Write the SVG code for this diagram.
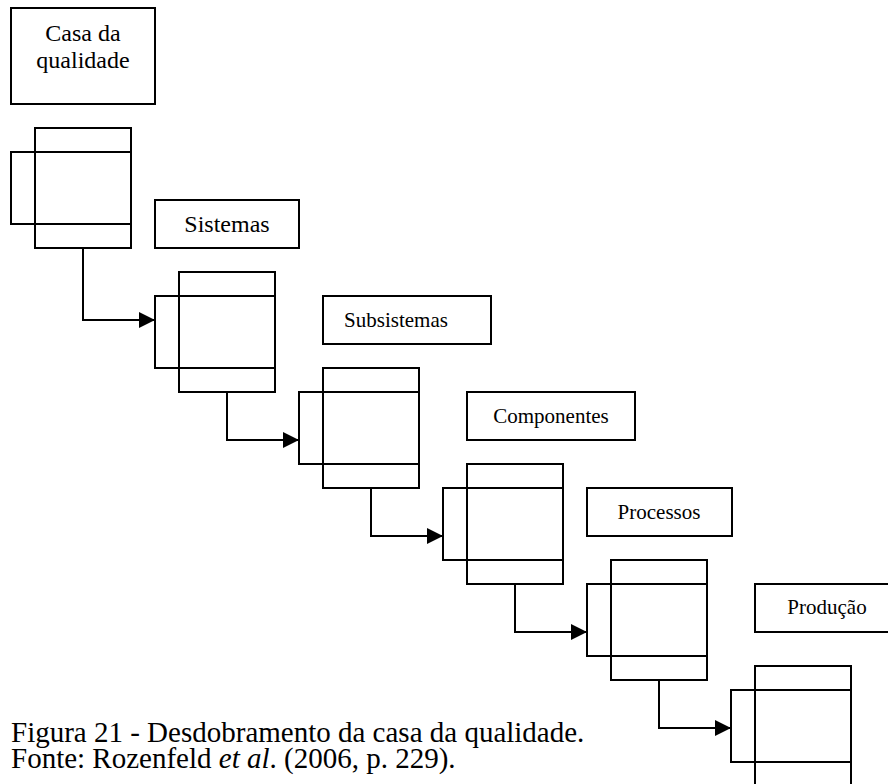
<svg xmlns="http://www.w3.org/2000/svg" width="888" height="784" viewBox="0 0 888 784" font-family="'Liberation Serif', 'Times New Roman', 'DejaVu Serif', serif">
<style>
.box{fill:none;stroke:#000;stroke-width:2}
.line{fill:none;stroke:#000;stroke-width:2}
text{font-family:'Liberation Serif','Times New Roman','DejaVu Serif',serif;fill:#000}
.lbl{text-anchor:middle}
.big{font-size:24px}
.small{font-size:21px}
.cap{font-size:29px}
</style>
<defs>
<marker id="arrow" markerWidth="16" markerHeight="16" refX="16" refY="8" orient="auto" markerUnits="userSpaceOnUse">
<path d="M0,0 L16,8 L0,16 Z" fill="#000"/>
</marker>
</defs>
<rect width="888" height="784" fill="#fff"/>
<g id="casa">
<rect class="box" x="11" y="8" width="144" height="96"/>
<text class="lbl big" x="83" y="41">Casa da</text>
<text class="lbl big" x="83" y="68">qualidade</text>
</g>
<g id="house1">
<rect class="box" x="35" y="128" width="96" height="120"/>
<rect class="box" x="11" y="152" width="120" height="72"/>
</g>
<g id="sistemas">
<rect class="box" x="155" y="200" width="144" height="48"/>
<text class="lbl big" x="227" y="232">Sistemas</text>
</g>
<g id="house2">
<rect class="box" x="179" y="272" width="96" height="120"/>
<rect class="box" x="155" y="296" width="120" height="72"/>
</g>
<g id="subsistemas">
<rect class="box" x="323" y="296" width="168" height="48"/>
<text class="lbl small" x="396" y="327">Subsistemas</text>
</g>
<g id="house3">
<rect class="box" x="323" y="368" width="96" height="120"/>
<rect class="box" x="299" y="392" width="120" height="72"/>
</g>
<g id="componentes">
<rect class="box" x="467" y="392" width="168" height="48"/>
<text class="lbl small" x="551" y="423">Componentes</text>
</g>
<g id="house4">
<rect class="box" x="467" y="464" width="96" height="120"/>
<rect class="box" x="443" y="488" width="120" height="72"/>
</g>
<g id="processos">
<rect class="box" x="587" y="488" width="145" height="48"/>
<text class="lbl small" x="659" y="519">Processos</text>
</g>
<g id="house5">
<rect class="box" x="611" y="560" width="96" height="120"/>
<rect class="box" x="587" y="584" width="120" height="72"/>
</g>
<g id="producao">
<rect class="box" x="755" y="584" width="144" height="48"/>
<text class="lbl small" x="827" y="614">Produção</text>
</g>
<g id="house6">
<rect class="box" x="755" y="666" width="96" height="130"/>
<rect class="box" x="731" y="690" width="120" height="72"/>
</g>
<g id="connectors">
<polyline class="line" points="83,248 83,320 155,320" marker-end="url(#arrow)"/>
<polyline class="line" points="227,392 227,440 299,440" marker-end="url(#arrow)"/>
<polyline class="line" points="371,488 371,536 443,536" marker-end="url(#arrow)"/>
<polyline class="line" points="515,584 515,632 587,632" marker-end="url(#arrow)"/>
<polyline class="line" points="659,680 659,728 731,728" marker-end="url(#arrow)"/>
</g>
<g id="caption">
<text class="cap" x="11" y="742">Figura 21 - Desdobramento da casa da qualidade.</text>
<text class="cap" x="11" y="768">Fonte: Rozenfeld <tspan font-style="italic">et al</tspan>. (2006, p. 229).</text>
</g>
</svg>
